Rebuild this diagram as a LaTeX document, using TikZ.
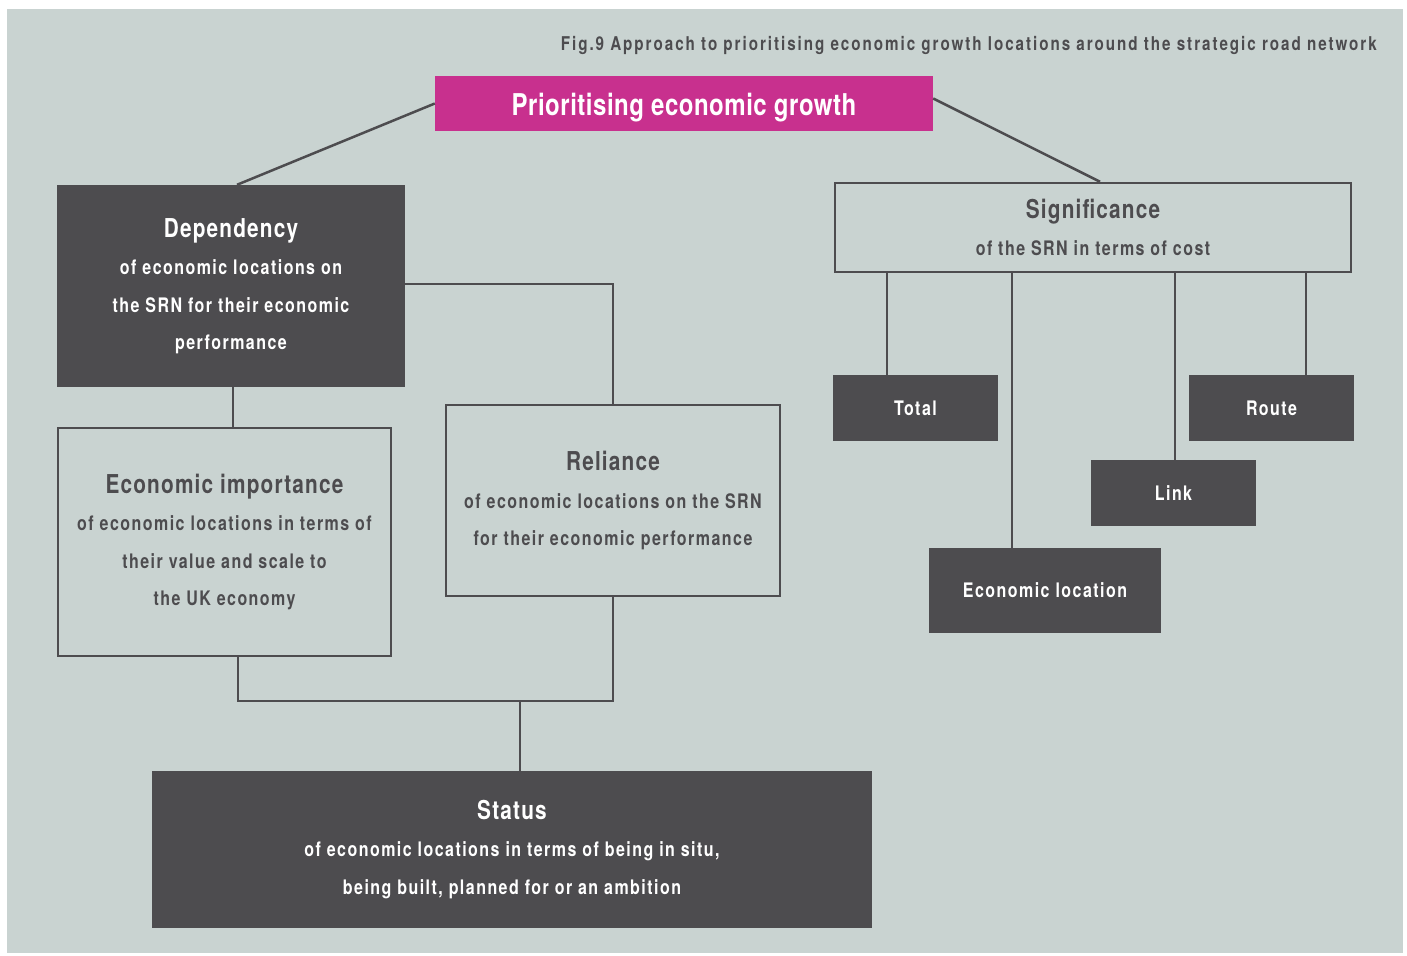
\documentclass[tikz,border=0pt]{standalone}
\usepackage{fontspec}
\setmainfont{TeX Gyre Heros}[FakeStretch=0.8]
\definecolor{bgc}{HTML}{C9D3D1}
\definecolor{dark}{HTML}{4D4C4F}
\definecolor{mag}{HTML}{C8308E}
\tikzset{
  box/.style={rectangle, inner sep=0pt, align=center, font=\bfseries\fontsize{20}{37.5}\selectfont\addfontfeatures{LetterSpace=7.3}},
  darkbox/.style={box, fill=dark, text=white},
  outbox/.style={box, draw=dark, line width=2.5pt, text=dark},
  magbox/.style={box, fill=mag, text=white, font=\bfseries\fontsize{30}{36}\selectfont\addfontfeatures{LetterSpace=1.7}},
  conn/.style={draw=dark, line width=2.5pt},
}
\newcommand{\hd}[1]{{\fontsize{26}{37.5}\selectfont\addfontfeatures{LetterSpace=4.5}#1}}
\begin{document}
\begin{tikzpicture}[x=1pt,y=-1pt]
\useasboundingbox (0,0) rectangle (1407,955);
\fill[white] (0,0) rectangle (1407,955);
\fill[bgc] (7,9) rectangle (1403,953);

\node[anchor=base east, inner sep=0pt, text=dark, font=\bfseries\fontsize{19}{22}\selectfont\addfontfeatures{LetterSpace=10.3}] (fig) at (1377,51) {Fig.9 Approach to prioritising economic growth locations around the strategic road network};

\node[magbox, minimum width=498pt, minimum height=55pt, text depth=0pt] (top) at (684,103.5) {\raisebox{-1pt}{Prioritising economic growth}};

\node[darkbox, minimum width=348pt, minimum height=202pt] (dep) at (231,286) {\hd{Dependency}\\of economic locations on\\the SRN for their economic\\performance};

\node[outbox, minimum width=333pt, minimum height=228pt] (econ) at (224.5,542) {\hd{Economic importance}\\of economic locations in terms of\\their value and scale to\\the UK economy};

\node[outbox, minimum width=334pt, minimum height=191pt] (rel) at (613,500.5) {\hd{Reliance}\\of economic locations on the SRN\\for their economic performance};

\node[darkbox, minimum width=720pt, minimum height=157pt] (status) at (512,849.5) {\hd{Status}\\of economic locations in terms of being in situ,\\being built, planned for or an ambition};

\node[outbox, minimum width=516pt, minimum height=89pt] (sig) at (1093,227.5) {\hd{Significance}\\of the SRN in terms of cost};

\node[darkbox, minimum width=165pt, minimum height=66pt] (total) at (915.5,408) {Total};
\node[darkbox, minimum width=165pt, minimum height=66pt] (route) at (1271.5,408) {Route};
\node[darkbox, minimum width=165pt, minimum height=66pt] (link) at (1173.5,493) {Link};
\node[darkbox, minimum width=232pt, minimum height=85pt] (ecloc) at (1045,590.5) {Economic location};

\draw[conn] (top.west) -- ([xshift=6pt]dep.north);
\draw[conn] ([yshift=5pt]top.east) -- ([xshift=7pt]sig.north);
\draw[conn] ([yshift=2pt]dep.east) -| (rel.north);
\draw[conn] ([xshift=2pt]dep.south) -- ([xshift=2pt]dep.south |- econ.north);
\coordinate (j) at (520,701);
\draw[conn] ([xshift=13.5pt]econ.south) |- (j) -| (rel.south);
\draw[conn] (j) -- (j |- status.north);

\draw[conn] ([xshift=-28.5pt]total.north) -- ([xshift=-28.5pt]total.north |- sig.south);
\draw[conn] ([xshift=-33pt]ecloc.north) -- ([xshift=-33pt]ecloc.north |- sig.south);
\draw[conn] ([xshift=1.5pt]link.north) -- ([xshift=1.5pt]link.north |- sig.south);
\draw[conn] ([xshift=34.5pt]route.north) -- ([xshift=34.5pt]route.north |- sig.south);
\end{tikzpicture}
\end{document}
